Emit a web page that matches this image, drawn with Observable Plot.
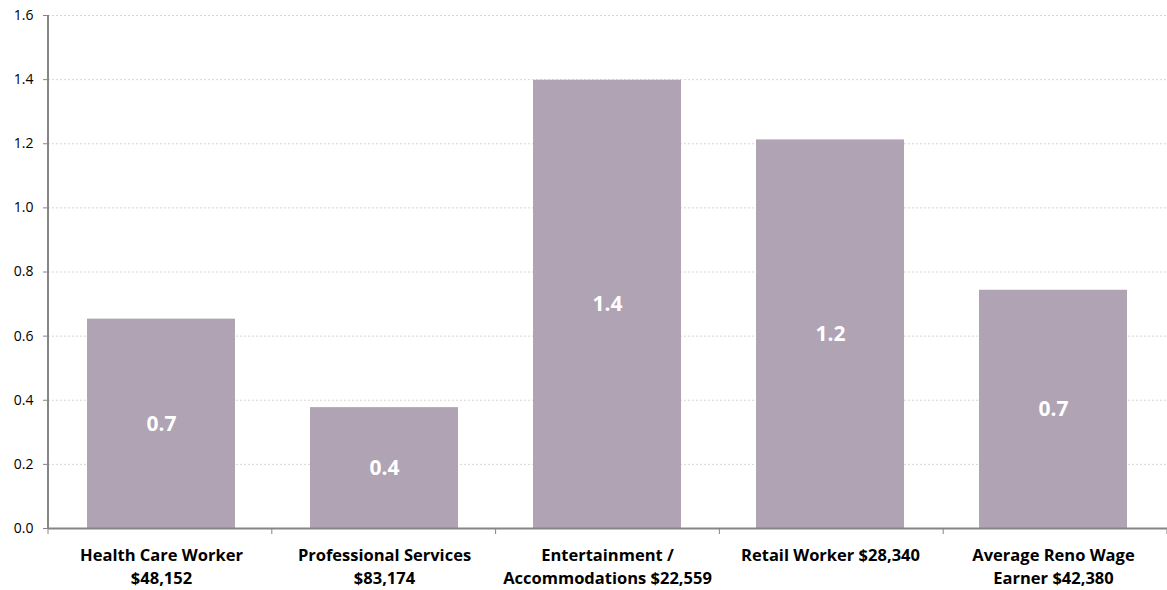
<!DOCTYPE html>
<html>
<head>
<meta charset="utf-8">
<script src="https://cdn.jsdelivr.net/npm/d3@7"></script>
<script src="https://cdn.jsdelivr.net/npm/@observablehq/plot@0.6"></script>
<style>
  html, body { margin: 0; padding: 0; background: #fff; }
  #chart svg { display: block; }
</style>
</head>
<body>
<div id="chart"></div>
<script>
// Occupation groups, their typical annual wage, and the ratio plotted for each
const categories = [
  "Health Care Worker",
  "Professional Services",
  "Entertainment / Accommodations",
  "Retail Worker",
  "Average Reno Wage Earner"
];
const wages = ["$48,152", "$83,174", "$22,559", "$28,340", "$42,380"];
// Axis label text of each group, broken into lines
const labelLines = [
  "Health Care Worker\n$48,152",
  "Professional Services\n$83,174",
  "Entertainment /\nAccommodations $22,559",
  "Retail Worker $28,340",
  "Average Reno Wage\nEarner $42,380"
];
const values = [0.653, 0.377, 1.398, 1.212, 0.743];
const yTicks = [0, 0.2, 0.4, 0.6, 0.8, 1.0, 1.2, 1.4, 1.6];

const data = categories.map((c, i) => ({category: c, wage: wages[i], value: values[i], label: labelLines[i]}));
const labelOf = new Map(data.map(d => [d.category, d.label]));

const W = 1167, H = 590;
const M = {top: 15, right: 0, bottom: 62, left: 48};
const axisColor = "#868686";
const barColor = "#afa3b4";
const fmt = d3.format(".1f");

// Left axis line and category boundary ticks, placed from the plot dimensions
function frameTicks(index, scales, values, dims) {
  const g = d3.create("svg:g");
  const {width, height, marginLeft, marginRight, marginTop, marginBottom} = dims;
  const y0 = height - marginBottom;
  const step = (width - marginLeft - marginRight) / categories.length;
  g.append("line")
    .attr("x1", marginLeft).attr("x2", marginLeft)
    .attr("y1", marginTop).attr("y2", y0)
    .attr("stroke", axisColor).attr("stroke-width", 2);
  for (let i = 0; i <= categories.length; i++) {
    const x = marginLeft + i * step;
    g.append("line")
      .attr("x1", x).attr("x2", x)
      .attr("y1", y0).attr("y2", y0 + 6)
      .attr("stroke", axisColor).attr("stroke-width", 1);
  }
  return g.node();
}

const chart = Plot.plot({
  width: W,
  height: H,
  marginTop: M.top,
  marginRight: M.right,
  marginBottom: M.bottom,
  marginLeft: M.left,
  style: {fontFamily: "'Open Sans', sans-serif", background: "#fff", color: "#000"},
  x: {domain: categories, paddingInner: 0.335, paddingOuter: 0.1675, label: null},
  y: {domain: [0, 1.6], label: null},
  marks: [
    Plot.ruleY(yTicks.filter(d => d > 0), {stroke: "#d6d6d6", strokeWidth: 1, strokeDasharray: "2,2"}),
    Plot.barY(data, {x: "category", y: "value", fill: barColor}),
    Plot.text(data, {
      x: "category",
      y: d => d.value / 2,
      text: d => fmt(d.value),
      fill: "#fff",
      fontSize: 21,
      fontWeight: "bold"
    }),
    Plot.ruleY([0], {stroke: axisColor, strokeWidth: 2}),
    frameTicks,
    Plot.axisY({
      ticks: yTicks,
      tickFormat: fmt,
      tickSize: 5,
      tickPadding: 10,
      stroke: axisColor,
      fill: "#000",
      fontSize: 14,
      label: null
    }),
    Plot.axisX({
      tickSize: 0,
      tickPadding: 17,
      tickFormat: d => labelOf.get(d),
      fontSize: 16.5,
      fontWeight: "bold",
      lineHeight: 1.36,
      fill: "#000",
      label: null
    })
  ]
});

document.getElementById("chart").append(chart);
</script>
</body>
</html>
